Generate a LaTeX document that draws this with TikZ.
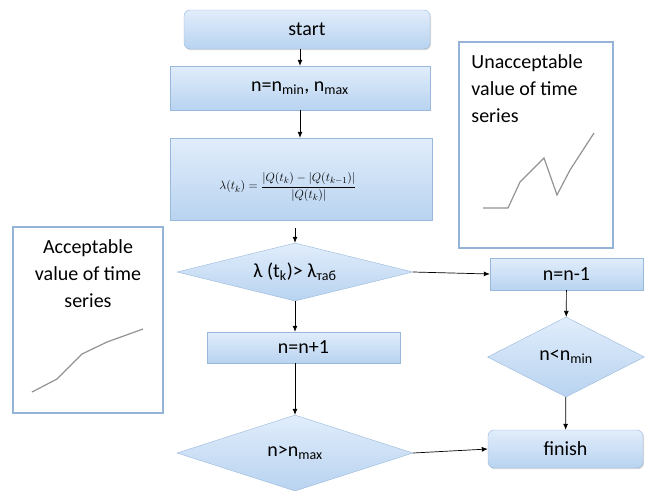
\documentclass[tikz,border=0pt]{standalone}
\usepackage{fontspec}
\usepackage{amsmath}
\setmainfont{Carlito}
\usetikzlibrary{arrows.meta,shapes.geometric,shadows,positioning}
\definecolor{boxtop}{HTML}{E1EDFB}
\definecolor{boxbot}{HTML}{B8D3F0}
\definecolor{boxline}{HTML}{98B8DC}
\definecolor{noteline}{HTML}{95B3D7}
\tikzset{blk/.style={rectangle,draw=boxline,top color=boxtop,bottom color=boxbot,inner sep=0pt,
    drop shadow={shadow xshift=1pt,shadow yshift=-1.2pt,opacity=0.3},font=\fontsize{20}{24}\selectfont},
  term/.style={blk,rounded corners=6pt},
  dec/.style={diamond,aspect=4,draw=boxline,top color=boxtop,bottom color=boxbot,inner sep=0pt,
    font=\fontsize{20}{24}\selectfont},
  notebox/.style={rectangle,draw=noteline,line width=1.5pt,fill=white,inner sep=0pt},
  notetext/.style={inner sep=0pt,font=\fontsize{20}{27}\selectfont},
  curve/.style={draw=gray!85,line width=1.2pt},
  flow/.style={-{Latex[length=6pt,width=5pt]},line width=0.7pt}}

\begin{document}
\begin{tikzpicture}[x=1pt,y=-1pt]
\useasboundingbox (0,0) rectangle (650,490);

\node[term,minimum width=246pt,minimum height=39pt] (start) at (307,29.5) {start};
\node[blk,minimum width=260pt,minimum height=44pt] (init) at (300,88) {n=n\textsubscript{min}, n\textsubscript{max}};
\node[blk,minimum width=262pt,minimum height=82pt] (lam) at (301,179) {};
\node[inner sep=0pt,font=\fontsize{12.5}{15}\selectfont] (lamtxt) at ([xshift=-13pt,yshift=-8pt]lam.center)
  {$\lambda(t_k)=\dfrac{|Q(t_k)-|Q(t_{k-1})|}{|Q(t_k)|}$};
\node[dec,minimum width=236pt,minimum height=58pt] (test) at (295,272) {λ (t\textsubscript{k})> λ\textsubscript{таб}};
\node[blk,minimum width=193pt,minimum height=31pt] (inc) at (303.5,347.5) {n=n+1};
\node[dec,minimum width=236pt,minimum height=76pt] (testmax) at (295,453) {n>n\textsubscript{max}};
\node[blk,minimum width=153pt,minimum height=32pt] (decr) at (566.5,274) {n=n-1};
\node[dec,aspect=2,minimum width=157pt,minimum height=80pt] (testmin) at (566,357) {n<n\textsubscript{min}};
\node[term,minimum width=155pt,minimum height=38pt] (finish) at (565.5,449) {finish};

% side notes
\node[notebox,minimum width=150pt,minimum height=186pt] (good) at (88,320) {};
\node[notetext,align=center,anchor=north] (goodtxt) at ([yshift=-13pt]good.north) {Acceptable\\value of time\\series};
\draw[curve] (32,392)--(57,379)--(82,354)--(107,342)--(143,329);

\node[notebox,minimum width=154pt,minimum height=206pt] (bad) at (536,145) {};
\node[notetext,align=left,anchor=north west] (badtxt) at ([xshift=13pt,yshift=-13pt]bad.north west) {Unacceptable\\value of time\\series};
\draw[curve] (483,208)--(508,208)--(520,182)--(544,158)--(557,195)--(570,170)--(594,133);

% flow
\draw[flow] (start.south -| init.north) -- (init);
\draw[flow] (init) -- (init |- lam.north);
\draw[flow] ([yshift=-8pt]lam.south -| test.north) -- (test);
\draw[flow] (test) -- (test |- inc.north);
\draw[flow] (inc.south -| testmax.north) -- (testmax);
\draw[flow] (test.east) -- (decr.west);
\draw[flow] (decr) -- (testmin);
\draw[flow] (testmin) -- (finish);
\draw[flow] (testmax.east) -- (finish.west);
\end{tikzpicture}
\end{document}
